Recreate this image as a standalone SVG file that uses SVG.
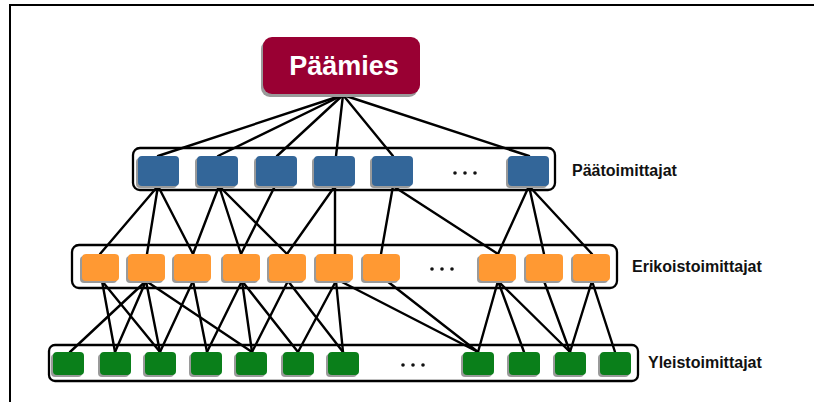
<svg xmlns="http://www.w3.org/2000/svg" width="814" height="402" viewBox="0 0 814 402">
  <style>
    .frame { fill: none; stroke: #000; stroke-width: 2; }
    .tier { fill: #fff; stroke: #000; stroke-width: 2.3; }
    .shadow { fill: #9a9a9a; }
    .blue { fill: #336699; }
    .orange { fill: #ff9933; }
    .green { fill: #0a7f1a; }
    .boss { fill: #990033; }
    .links line { stroke: #000; stroke-width: 2.4; stroke-linecap: round; }
    .dots circle { fill: #111; }
    .label { font-family: "Liberation Sans", Arial, sans-serif; font-weight: bold; font-size: 16px; fill: #111; }
    .title { font-family: "Liberation Sans", Arial, sans-serif; font-weight: bold; font-size: 27px; fill: #fff; }
  </style>
  <defs>
    <rect id="b" width="41" height="30" rx="4"/>
    <rect id="o" width="37" height="27" rx="4"/>
    <rect id="g" width="31" height="23" rx="4"/>
  </defs>

  <rect x="0" y="0" width="814" height="402" fill="#fff"/>
  <!-- page frame: top and left edges only -->
  <path class="frame" d="M10 402 V5 H814"/>

  <!-- tier containers -->
  <rect id="tier-paatoimittajat" class="tier" x="133" y="148" width="422" height="42" rx="7"/>
  <rect id="tier-erikoistoimittajat" class="tier" x="72" y="245" width="545" height="43" rx="7"/>
  <rect id="tier-yleistoimittajat" class="tier" x="49" y="345" width="589" height="36" rx="6"/>

  <!-- connectors -->
  <g id="connectors" class="links">
    <!-- Päämies to Päätoimittajat -->
    <line x1="343" y1="95" x2="158" y2="156"/>
    <line x1="343" y1="95" x2="218" y2="156"/>
    <line x1="343" y1="95" x2="277" y2="156"/>
    <line x1="343" y1="95" x2="336" y2="156"/>
    <line x1="343" y1="95" x2="393" y2="156"/>
    <line x1="343" y1="95" x2="529" y2="156"/>
    <!-- Päätoimittajat to Erikoistoimittajat -->
    <line x1="158" y1="186" x2="100" y2="254"/>
    <line x1="158" y1="186" x2="147" y2="254"/>
    <line x1="158" y1="186" x2="193" y2="254"/>
    <line x1="219" y1="186" x2="193" y2="254"/>
    <line x1="219" y1="186" x2="241" y2="254"/>
    <line x1="219" y1="186" x2="287" y2="254"/>
    <line x1="275" y1="186" x2="241" y2="254"/>
    <line x1="335" y1="186" x2="287" y2="254"/>
    <line x1="335" y1="186" x2="335" y2="254"/>
    <line x1="393" y1="186" x2="381" y2="254"/>
    <line x1="393" y1="186" x2="498" y2="254"/>
    <line x1="529" y1="186" x2="498" y2="254"/>
    <line x1="529" y1="186" x2="544" y2="254"/>
    <line x1="529" y1="186" x2="592" y2="254"/>
    <!-- Erikoistoimittajat to Yleistoimittajat -->
    <line x1="102" y1="281" x2="115" y2="352"/>
    <line x1="102" y1="281" x2="160" y2="352"/>
    <line x1="146" y1="281" x2="70" y2="352"/>
    <line x1="146" y1="281" x2="115" y2="352"/>
    <line x1="146" y1="281" x2="160" y2="352"/>
    <line x1="146" y1="281" x2="252" y2="352"/>
    <line x1="193" y1="281" x2="160" y2="352"/>
    <line x1="193" y1="281" x2="207" y2="352"/>
    <line x1="242" y1="281" x2="207" y2="352"/>
    <line x1="242" y1="281" x2="252" y2="352"/>
    <line x1="242" y1="281" x2="298" y2="352"/>
    <line x1="288" y1="281" x2="252" y2="352"/>
    <line x1="288" y1="281" x2="343" y2="352"/>
    <line x1="336" y1="281" x2="298" y2="352"/>
    <line x1="336" y1="281" x2="343" y2="352"/>
    <line x1="340" y1="281" x2="478" y2="352"/>
    <line x1="387" y1="281" x2="478" y2="352"/>
    <line x1="498" y1="281" x2="478" y2="352"/>
    <line x1="498" y1="281" x2="524" y2="352"/>
    <line x1="498" y1="281" x2="570" y2="352"/>
    <line x1="544" y1="281" x2="570" y2="352"/>
    <line x1="592" y1="281" x2="570" y2="352"/>
    <line x1="592" y1="281" x2="615" y2="352"/>
  </g>

  <!-- top node -->
  <g id="paamies">
    <rect class="shadow" x="261" y="40" width="157" height="57" rx="9"/>
    <rect class="boss" x="263" y="37" width="157" height="57" rx="9"/>
    <text class="title" x="344" y="75" text-anchor="middle">Päämies</text>
  </g>

  <!-- Päätoimittajat -->
  <g id="paatoimittajat">
    <g id="p1"><use href="#b" class="shadow" x="136" y="158"/><use href="#b" class="blue" x="138" y="156"/></g>
    <g id="p2"><use href="#b" class="shadow" x="195" y="158"/><use href="#b" class="blue" x="197" y="156"/></g>
    <g id="p3"><use href="#b" class="shadow" x="254" y="158"/><use href="#b" class="blue" x="256" y="156"/></g>
    <g id="p4"><use href="#b" class="shadow" x="312" y="158"/><use href="#b" class="blue" x="314" y="156"/></g>
    <g id="p5"><use href="#b" class="shadow" x="370" y="158"/><use href="#b" class="blue" x="372" y="156"/></g>
    <g class="dots"><circle cx="455" cy="173" r="1.8"/><circle cx="465" cy="173" r="1.8"/><circle cx="475" cy="173" r="1.8"/></g>
    <g id="p6"><use href="#b" class="shadow" x="506" y="158"/><use href="#b" class="blue" x="508" y="156"/></g>
    <text class="label" x="572" y="176">Päätoimittajat</text>
  </g>

  <!-- Erikoistoimittajat -->
  <g id="erikoistoimittajat">
    <g id="e1"><use href="#o" class="shadow" x="80" y="256"/><use href="#o" class="orange" x="82" y="254"/></g>
    <g id="e2"><use href="#o" class="shadow" x="126" y="256"/><use href="#o" class="orange" x="128" y="254"/></g>
    <g id="e3"><use href="#o" class="shadow" x="172" y="256"/><use href="#o" class="orange" x="174" y="254"/></g>
    <g id="e4"><use href="#o" class="shadow" x="221" y="256"/><use href="#o" class="orange" x="223" y="254"/></g>
    <g id="e5"><use href="#o" class="shadow" x="267" y="256"/><use href="#o" class="orange" x="269" y="254"/></g>
    <g id="e6"><use href="#o" class="shadow" x="314" y="256"/><use href="#o" class="orange" x="316" y="254"/></g>
    <g id="e7"><use href="#o" class="shadow" x="361" y="256"/><use href="#o" class="orange" x="363" y="254"/></g>
    <g class="dots"><circle cx="432" cy="269" r="1.8"/><circle cx="442" cy="269" r="1.8"/><circle cx="452" cy="269" r="1.8"/></g>
    <g id="e8"><use href="#o" class="shadow" x="477" y="256"/><use href="#o" class="orange" x="479" y="254"/></g>
    <g id="e9"><use href="#o" class="shadow" x="524" y="256"/><use href="#o" class="orange" x="526" y="254"/></g>
    <g id="e10"><use href="#o" class="shadow" x="571" y="256"/><use href="#o" class="orange" x="573" y="254"/></g>
    <text class="label" x="632" y="272">Erikoistoimittajat</text>
  </g>

  <!-- Yleistoimittajat -->
  <g id="yleistoimittajat">
    <g id="y1"><use href="#g" class="shadow" x="51" y="354"/><use href="#g" class="green" x="53" y="352"/></g>
    <g id="y2"><use href="#g" class="shadow" x="98" y="354"/><use href="#g" class="green" x="100" y="352"/></g>
    <g id="y3"><use href="#g" class="shadow" x="143" y="354"/><use href="#g" class="green" x="145" y="352"/></g>
    <g id="y4"><use href="#g" class="shadow" x="189" y="354"/><use href="#g" class="green" x="191" y="352"/></g>
    <g id="y5"><use href="#g" class="shadow" x="234" y="354"/><use href="#g" class="green" x="236" y="352"/></g>
    <g id="y6"><use href="#g" class="shadow" x="281" y="354"/><use href="#g" class="green" x="283" y="352"/></g>
    <g id="y7"><use href="#g" class="shadow" x="326" y="354"/><use href="#g" class="green" x="328" y="352"/></g>
    <g class="dots"><circle cx="403" cy="365" r="1.8"/><circle cx="413" cy="365" r="1.8"/><circle cx="423" cy="365" r="1.8"/></g>
    <g id="y8"><use href="#g" class="shadow" x="461" y="354"/><use href="#g" class="green" x="463" y="352"/></g>
    <g id="y9"><use href="#g" class="shadow" x="507" y="354"/><use href="#g" class="green" x="509" y="352"/></g>
    <g id="y10"><use href="#g" class="shadow" x="553" y="354"/><use href="#g" class="green" x="555" y="352"/></g>
    <g id="y11"><use href="#g" class="shadow" x="598" y="354"/><use href="#g" class="green" x="600" y="352"/></g>
    <text class="label" x="648" y="368">Yleistoimittajat</text>
  </g>
</svg>
